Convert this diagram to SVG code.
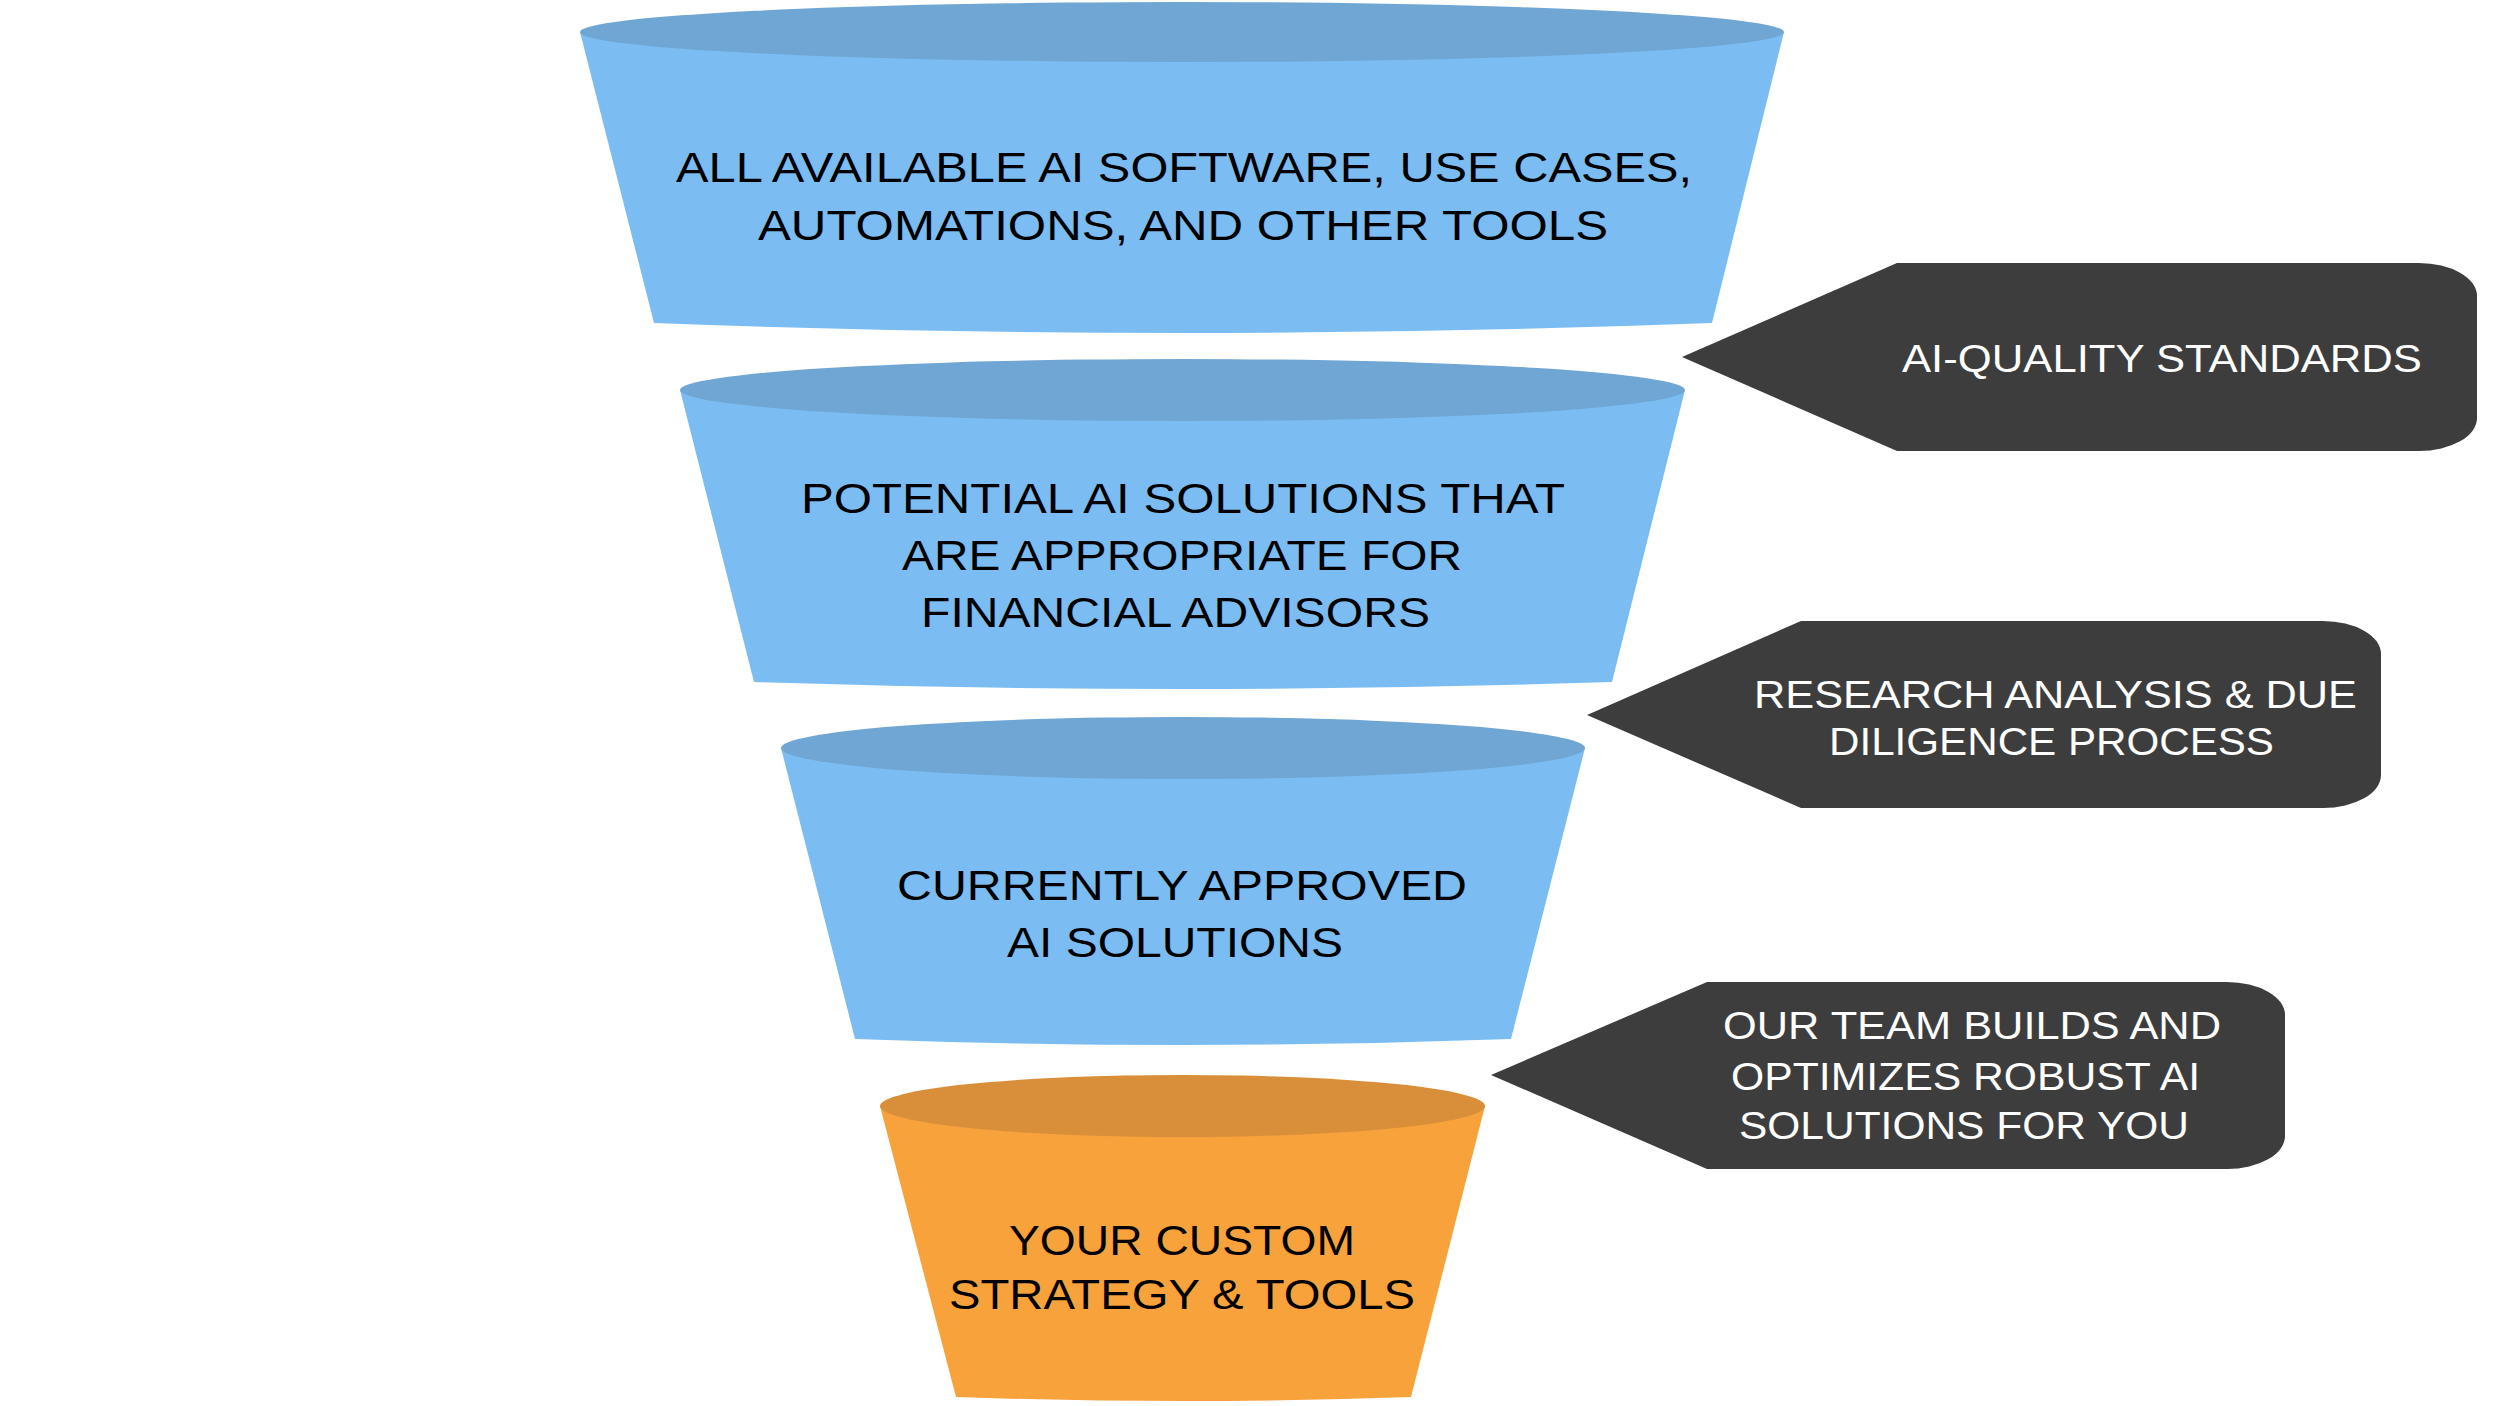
<svg xmlns="http://www.w3.org/2000/svg" width="2500" height="1406" viewBox="0 0 2500 1406">
<style>
.body-blue{fill:#7BBDF2}
.top-blue{fill:#6FA6D3}
.body-orange{fill:#F8A23C}
.top-orange{fill:#D98F3A}
.tag{fill:#3D3D3D}
.ft{font-family:"Liberation Sans",Arial,sans-serif;font-size:42px;fill:#000;text-anchor:middle}
.tt{font-family:"Liberation Sans",Arial,sans-serif;font-size:39px;fill:#fff;text-anchor:middle}
</style>
<rect width="2500" height="1406" fill="#fff"/>
<g id="funnel-1">
<path class="body-blue" d="M580,32 L654,323 Q1183,343 1712,323 L1784,32 Z"/>
<ellipse class="top-blue" cx="1182" cy="32" rx="602" ry="30"/>
<text class="ft" x="1184" y="182" textLength="1016" lengthAdjust="spacingAndGlyphs">ALL AVAILABLE AI SOFTWARE, USE CASES,</text>
<text class="ft" x="1183" y="240" textLength="850" lengthAdjust="spacingAndGlyphs">AUTOMATIONS, AND OTHER TOOLS</text>
</g>
<g id="funnel-2">
<path class="body-blue" d="M680,390 L754,682 Q1183,696 1612,682 L1685,390 Z"/>
<ellipse class="top-blue" cx="1182.5" cy="390" rx="502.5" ry="31"/>
<text class="ft" x="1183" y="513" textLength="764" lengthAdjust="spacingAndGlyphs">POTENTIAL AI SOLUTIONS THAT</text>
<text class="ft" x="1182" y="570" textLength="560" lengthAdjust="spacingAndGlyphs">ARE APPROPRIATE FOR</text>
<text class="ft" x="1175.5" y="627" textLength="509" lengthAdjust="spacingAndGlyphs">FINANCIAL ADVISORS</text>
</g>
<g id="funnel-3">
<path class="body-blue" d="M781,748 L855,1039 Q1183,1051 1511,1039 L1585,748 Z"/>
<ellipse class="top-blue" cx="1183" cy="748" rx="402" ry="31"/>
<text class="ft" x="1182" y="900" textLength="570" lengthAdjust="spacingAndGlyphs">CURRENTLY APPROVED</text>
<text class="ft" x="1175" y="957" textLength="336" lengthAdjust="spacingAndGlyphs">AI SOLUTIONS</text>
</g>
<g id="funnel-4">
<path class="body-orange" d="M880,1106 L956,1397 Q1183,1405 1411,1397 L1485,1106 Z"/>
<ellipse class="top-orange" cx="1182.5" cy="1106" rx="302.5" ry="31"/>
<text class="ft" x="1182" y="1255" textLength="346" lengthAdjust="spacingAndGlyphs">YOUR CUSTOM</text>
<text class="ft" x="1182" y="1309" textLength="466" lengthAdjust="spacingAndGlyphs">STRATEGY &amp; TOOLS</text>
</g>
<g id="tag-1">
<path class="tag" d="M1682,357 L1897,263 L2419,263 A58,33 0 0 1 2477,296 L2477,418 A58,33 0 0 1 2419,451 L1897,451 Z"/>
<text class="tt" x="2162" y="372" textLength="520" lengthAdjust="spacingAndGlyphs">AI-QUALITY STANDARDS</text>
</g>
<g id="tag-2">
<path class="tag" d="M1587,715 L1801,621 L2323,621 A58,33 0 0 1 2381,654 L2381,775 A58,33 0 0 1 2323,808 L1801,808 Z"/>
<text class="tt" x="2055.5" y="708" textLength="603" lengthAdjust="spacingAndGlyphs">RESEARCH ANALYSIS &amp; DUE</text>
<text class="tt" x="2051.5" y="755" textLength="445" lengthAdjust="spacingAndGlyphs">DILIGENCE PROCESS</text>
</g>
<g id="tag-3">
<path class="tag" d="M1491,1075 L1707,982 L2227,982 A58,33 0 0 1 2285,1015 L2285,1136 A58,33 0 0 1 2227,1169 L1707,1169 Z"/>
<text class="tt" x="1972" y="1039" textLength="498" lengthAdjust="spacingAndGlyphs">OUR TEAM BUILDS AND</text>
<text class="tt" x="1965.5" y="1090" textLength="469" lengthAdjust="spacingAndGlyphs">OPTIMIZES ROBUST AI</text>
<text class="tt" x="1964" y="1139" textLength="450" lengthAdjust="spacingAndGlyphs">SOLUTIONS FOR YOU</text>
</g>
<g id="connectors"></g>
</svg>
